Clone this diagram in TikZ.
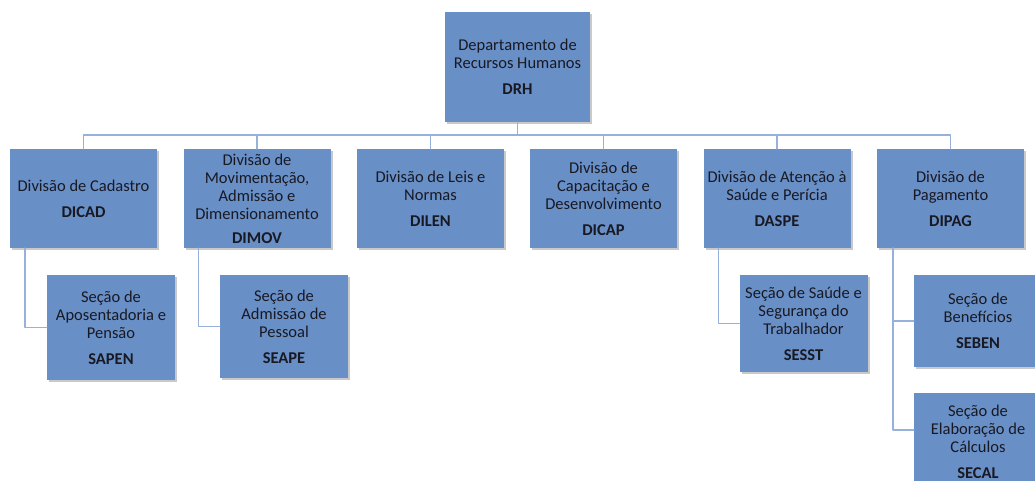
\documentclass[tikz,border=0pt]{standalone}
\usepackage{fontspec}
\setmainfont{Carlito}
\usetikzlibrary{shadows}
\definecolor{boxblue}{RGB}{104,143,198}
\definecolor{linkblue}{RGB}{150,178,220}
\definecolor{inktext}{RGB}{25,25,35}

\begin{document}
\begin{tikzpicture}[x=1pt,y=-1pt,line cap=round,line join=round,
  unit/.style={rectangle,fill=boxblue,text=inktext,align=center,inner sep=1pt,
    font=\fontsize{16.5}{18}\selectfont,
    drop shadow={shadow xshift=2pt,shadow yshift=-2pt,opacity=0.3,fill=black!70}},
  div/.style={unit,minimum width=147pt,minimum height=99pt},
  sec/.style={unit,minimum width=128pt},
  link/.style={draw=linkblue,line width=1.6pt}]
\useasboundingbox (0,0) rectangle (1035,481);
%
\node[unit,minimum width=145pt,minimum height=110pt] (drh) at (517.5,67)
  {Departamento de\\Recursos Humanos\\[8pt]\textbf{DRH}};
%
\node[div] (dicad) at (83.5,198.5) {Divisão de Cadastro\\[8pt]\textbf{DICAD}};
\node[div] (dimov) at (257,198.5) {Divisão de\\Movimentação,\\Admissão e\\Dimensionamento\\[6pt]\textbf{DIMOV}};
\node[div] (dilen) at (430.5,198.5) {Divisão de Leis e\\Normas\\[8pt]\textbf{DILEN}};
\node[div] (dicap) at (603.5,198.5) {Divisão de\\Capacitação e\\Desenvolvimento\\[8pt]\textbf{DICAP}};
\node[div] (daspe) at (777,198.5) {Divisão de Atenção à\\Saúde e Perícia\\[8pt]\textbf{DASPE}};
\node[div] (dipag) at (950.5,198.5) {Divisão de\\Pagamento\\[8pt]\textbf{DIPAG}};
%
\node[sec,minimum height=105pt] (sapen) at (111,327.5) {Seção de\\Aposentadoria e\\Pensão\\[8pt]\textbf{SAPEN}};
\node[sec,minimum height=103pt] (seape) at (284,326.5) {Seção de\\Admissão de\\Pessoal\\[8pt]\textbf{SEAPE}};
\node[sec,minimum height=97pt] (sesst) at (803.5,323.5) {Seção de Saúde e\\Segurança do\\Trabalhador\\[8pt]\textbf{SESST}};
\node[sec,minimum height=92pt] (seben) at (978,321) {Seção de\\Benefícios\\[8pt]\textbf{SEBEN}};
\node[sec,minimum height=97pt] (secal) at (978,441.5) {Seção de\\Elaboração de\\Cálculos\\[8pt]\textbf{SECAL}};
%
\coordinate (bus) at (517.5,135);
\draw[link] (drh.south) -- (bus);
\foreach \d in {dicad,dimov,dilen,dicap,daspe,dipag}
  \draw[link] (bus) -| (\d.north);
%
\draw[link] ([xshift=15pt]dicad.south west) |- (sapen.west);
\draw[link] ([xshift=15pt]dimov.south west) |- (seape.west);
\draw[link] ([xshift=15pt]daspe.south west) |- (sesst.west);
\draw[link] ([xshift=16pt]dipag.south west) |- (seben.west);
\draw[link] ([xshift=16pt]dipag.south west) |- ([yshift=-37pt]secal.north west);
\end{tikzpicture}
\end{document}
